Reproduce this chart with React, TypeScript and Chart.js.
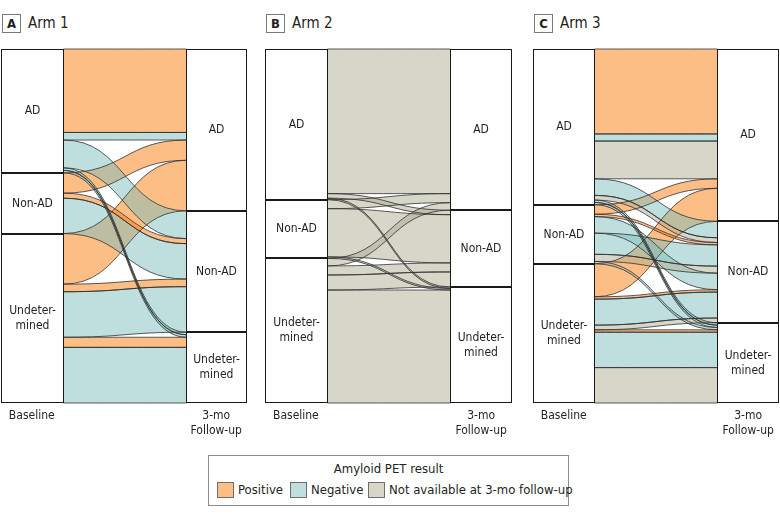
import React, { useEffect, useRef } from 'react';
import { Chart, registerables } from 'chart.js';

Chart.register(...registerables);

const FONT = "'DejaVu Sans Condensed', 'Liberation Sans Narrow', 'Roboto Condensed', Roboto, sans-serif";
const TEXT = '#231f20';

// ---- shared categories ----
const stageNames = ['AD', 'Non-AD', 'Undetermined'];
const nodeLabels = [['AD'], ['Non-AD'], ['Undeter-', 'mined']];
const resultNames = ['Positive', 'Negative', 'Not available at 3-mo follow-up'];
const resultFill = ['rgba(251,125,13,0.5)', 'rgba(125,191,189,0.5)', 'rgba(173,173,147,0.5)'];
const legendSwatch = ['#fdbe86', '#bedfde', '#d6d6c9'];
const axisTickValues = [0.5, 3.5];
const axisTickLabels = [['Baseline'], ['3-mo', 'Follow-up']];

// ---- Arm 1: baseline stage, 3-mo stage, PET result, patients ----
const arm1From = [0, 0, 0, 0, 0, 1, 1, 1, 2, 2, 2, 2, 2];
const arm1To = [0, 0, 1, 2, 2, 0, 1, 1, 0, 1, 1, 2, 2];
const arm1Result = [0, 1, 1, 1, 1, 0, 0, 1, 0, 0, 1, 0, 1];
const arm1Count = [33, 3, 11, 1, 1, 8, 2, 14, 20, 3, 18, 4, 22];

// ---- Arm 2 ----
const arm2From = [0, 0, 0, 1, 1, 1, 2, 2, 2, 2];
const arm2To = [0, 1, 2, 0, 1, 2, 0, 1, 1, 2];
const arm2Result = [2, 2, 2, 2, 2, 2, 2, 2, 2, 2];
const arm2Count = [96, 3, 1, 6, 32, 1, 5, 6, 10, 75];

// ---- Arm 3 ----
const arm3From = [0, 0, 0, 0, 0, 0, 0, 1, 1, 1, 1, 1, 1, 2, 2, 2, 2, 2, 2, 2];
const arm3To = [0, 0, 0, 1, 1, 2, 2, 0, 1, 1, 1, 1, 2, 0, 1, 1, 1, 2, 2, 2];
const arm3Result = [0, 1, 2, 1, 2, 1, 1, 0, 0, 1, 1, 2, 1, 0, 0, 1, 2, 0, 1, 2];
const arm3Count = [36, 3, 16, 7, 2, 1, 1, 4, 1, 7, 9, 3, 1, 14, 1, 11, 2, 1, 15, 15];
const arm3RightOrder = [0, 1, 2, 7, 13, 3, 4, 8, 10, 11, 9, 14, 15, 16, 5, 6, 12, 17, 18, 19];

type Arm = {
  from: number[];
  to: number[];
  result: number[];
  count: number[];
  rightOrder?: number[];
};

const arms: Arm[] = [
  { from: arm1From, to: arm1To, result: arm1Result, count: arm1Count },
  { from: arm2From, to: arm2To, result: arm2Result, count: arm2Count },
  { from: arm3From, to: arm3To, result: arm3Result, count: arm3Count, rightOrder: arm3RightOrder },
];

const panelLetters = ['A', 'B', 'C'];
const panelTitles = ['Arm 1', 'Arm 2', 'Arm 3'];

// layout (pixels) for each panel's plotting area
const panelBoxes = [
  { areaLeft: 1, areaRight: 247 },
  { areaLeft: 265, areaRight: 512 },
  { areaLeft: 533, areaRight: 779 },
];

function layoutArm(arm: Arm) {
  const n = arm.count.length;
  const idx = Array.from({ length: n }, (_, i) => i);
  const leftOrder = idx.slice().sort((a, b) => arm.from[a] - arm.from[b] || a - b);
  const rightOrder =
    arm.rightOrder ?? idx.slice().sort((a, b) => arm.to[a] - arm.to[b] || arm.from[a] - arm.from[b] || a - b);
  const ls: number[] = new Array(n);
  const rs: number[] = new Array(n);
  let acc = 0;
  for (const i of leftOrder) {
    ls[i] = acc;
    acc += arm.count[i];
  }
  const total = acc;
  acc = 0;
  for (const i of rightOrder) {
    rs[i] = acc;
    acc += arm.count[i];
  }
  const nodes = (key: number[], starts: number[]) =>
    stageNames.map((_, s) => {
      const ids = idx.filter((i) => key[i] === s);
      const start = Math.min(...ids.map((i) => starts[i]));
      const size = ids.reduce((t, i) => t + arm.count[i], 0);
      return [start, start + size];
    });
  return { ls, rs, total, leftNodes: nodes(arm.from, ls), rightNodes: nodes(arm.to, rs) };
}

function makePlugin(arm: Arm) {
  const L = layoutArm(arm);
  return {
    id: 'alluvial',
    afterDraw(chart: any) {
      const { ctx } = chart;
      const xs = chart.scales.x;
      const ys = chart.scales.y;
      const x0 = Math.round(xs.getPixelForValue(0)) + 0.5;
      const x1 = Math.round(xs.getPixelForValue(1)) + 0.5;
      const x2 = Math.round(xs.getPixelForValue(3)) + 0.5;
      const x3 = Math.round(xs.getPixelForValue(4)) - 0.5;
      const xm = (x1 + x2) / 2;
      const n = arm.count.length;
      const order = Array.from({ length: n }, (_, i) => i).sort(
        (a, b) => arm.result[a] - arm.result[b] || a - b
      );
      const path = (i: number) => {
        const yl0 = ys.getPixelForValue(L.ls[i]);
        const yl1 = ys.getPixelForValue(L.ls[i] + arm.count[i]);
        const yr0 = ys.getPixelForValue(L.rs[i]);
        const yr1 = ys.getPixelForValue(L.rs[i] + arm.count[i]);
        ctx.beginPath();
        ctx.moveTo(x1, yl0);
        ctx.bezierCurveTo(xm, yl0, xm, yr0, x2, yr0);
        ctx.lineTo(x2, yr1);
        ctx.bezierCurveTo(xm, yr1, xm, yl1, x1, yl1);
        ctx.closePath();
      };
      ctx.save();
      for (const i of order) {
        path(i);
        ctx.fillStyle = resultFill[arm.result[i]];
        ctx.fill();
      }
      for (const i of order) {
        path(i);
        ctx.strokeStyle = 'rgba(50,50,50,0.8)';
        ctx.lineWidth = 1;
        ctx.stroke();
      }
      // nodes
      const drawNodes = (nodes: number[][], xa: number, xb: number) => {
        nodes.forEach((nd, s) => {
          const ya = Math.round(ys.getPixelForValue(nd[0])) + 0.5;
          const yb = Math.round(ys.getPixelForValue(nd[1])) - 0.5;
          ctx.fillStyle = '#ffffff';
          ctx.fillRect(xa, ya, xb - xa, yb - ya);
          ctx.strokeStyle = '#1a1a1a';
          ctx.lineWidth = 1;
          ctx.strokeRect(xa, ya, xb - xa, yb - ya);
          const lines = nodeLabels[s];
          const cy = (ya + yb) / 2;
          const cx = (xa + xb) / 2;
          ctx.fillStyle = TEXT;
          ctx.font = `12px ${FONT}`;
          ctx.textAlign = 'center';
          ctx.textBaseline = 'middle';
          lines.forEach((t, k) => {
            ctx.fillText(t, cx, cy + (k - (lines.length - 1) / 2) * 15);
          });
        });
      };
      drawNodes(L.leftNodes, x0, x1);
      drawNodes(L.rightNodes, x2, x3);
      ctx.restore();
    },
  };
}

const CANVAS_W = 250;
const CANVAS_H = 400;
const CANVAS_TOP = 40;

function Panel({ index }: { index: number }) {
  const ref = useRef<HTMLCanvasElement | null>(null);
  const box = panelBoxes[index];
  const canvasLeft = index === 2 ? 780 - CANVAS_W : box.areaLeft - 1;
  useEffect(() => {
    if (!ref.current) return;
    const arm = arms[index];
    const L = layoutArm(arm);
    const chart = new Chart(ref.current, {
      type: 'scatter',
      data: { datasets: [] },
      options: {
        animation: false,
        responsive: false,
        maintainAspectRatio: false,
        events: [],
        layout: {
          padding: {
            left: box.areaLeft - canvasLeft,
            right: canvasLeft + CANVAS_W - box.areaRight,
            top: 49 - CANVAS_TOP,
            bottom: 0,
          },
        },
        plugins: { legend: { display: false }, tooltip: { enabled: false }, title: { display: false } },
        scales: {
          x: {
            type: 'linear',
            min: 0,
            max: 4,
            position: 'bottom',
            grid: { display: false, drawTicks: false },
            border: { display: false },
            afterBuildTicks: (s: any) => {
              s.ticks = axisTickValues.map((v) => ({ value: v }));
            },
            afterFit: (s: any) => {
              s.height = CANVAS_H - (403 - CANVAS_TOP);
            },
            ticks: {
              autoSkip: false,
              maxRotation: 0,
              minRotation: 0,
              padding: 6,
              color: TEXT,
              font: { family: FONT, size: 12 },
              callback: (_v: any, i: number) => axisTickLabels[i],
            },
          },
          y: { type: 'linear', display: false, min: 0, max: L.total, reverse: true },
        },
      },
      plugins: [makePlugin(arm)],
    } as any);
    return () => chart.destroy();
  }, [index]);
  return (
    <>
      <div
        style={{
          position: 'absolute',
          left: box.areaLeft + 1,
          top: 14,
          width: 19,
          height: 19,
          boxSizing: 'border-box',
          border: '1px solid #7a7a7a',
          font: `bold 13px ${FONT}`,
          color: TEXT,
          textAlign: 'center',
          lineHeight: '17px',
        }}
      >
        {panelLetters[index]}
      </div>
      <div
        style={{
          position: 'absolute',
          left: box.areaLeft + 27,
          top: 14,
          height: 19,
          font: `15px ${FONT}`,
          lineHeight: '19px',
          color: TEXT,
          whiteSpace: 'nowrap',
        }}
      >
        {panelTitles[index]}
      </div>
      <canvas
        ref={ref}
        width={CANVAS_W}
        height={CANVAS_H}
        style={{ position: 'absolute', left: canvasLeft, top: CANVAS_TOP, width: CANVAS_W, height: CANVAS_H }}
      />
    </>
  );
}

const legendSwatchLeft = [8, 81, 159];
const legendTextLeft = [29, 102, 180];

export default function App() {
  return (
    <div
      style={{
        position: 'absolute',
        left: 0,
        top: 0,
        width: 780,
        height: 526,
        background: '#ffffff',
        overflow: 'hidden',
        fontFamily: FONT,
      }}
    >
      {[0, 1, 2].map((i) => (
        <Panel key={i} index={i} />
      ))}
      <div
        style={{
          position: 'absolute',
          left: 208,
          top: 455,
          width: 361,
          height: 51,
          boxSizing: 'border-box',
          border: '1px solid #8c8c8c',
          color: TEXT,
        }}
      >
        <div
          style={{
            position: 'absolute',
            left: 0,
            top: 4,
            width: '100%',
            textAlign: 'center',
            font: `13px ${FONT}`,
            lineHeight: '18px',
          }}
        >
          Amyloid PET result
        </div>
        {resultNames.map((name, i) => (
          <React.Fragment key={name}>
            <div
              style={{
                position: 'absolute',
                left: legendSwatchLeft[i],
                top: 26,
                width: 17,
                height: 16,
                boxSizing: 'border-box',
                border: '1px solid #6e6e6e',
                background: legendSwatch[i],
              }}
            />
            <div
              style={{
                position: 'absolute',
                left: legendTextLeft[i],
                top: 25,
                font: `13px ${FONT}`,
                lineHeight: '18px',
                whiteSpace: 'nowrap',
              }}
            >
              {name}
            </div>
          </React.Fragment>
        ))}
      </div>
    </div>
  );
}
